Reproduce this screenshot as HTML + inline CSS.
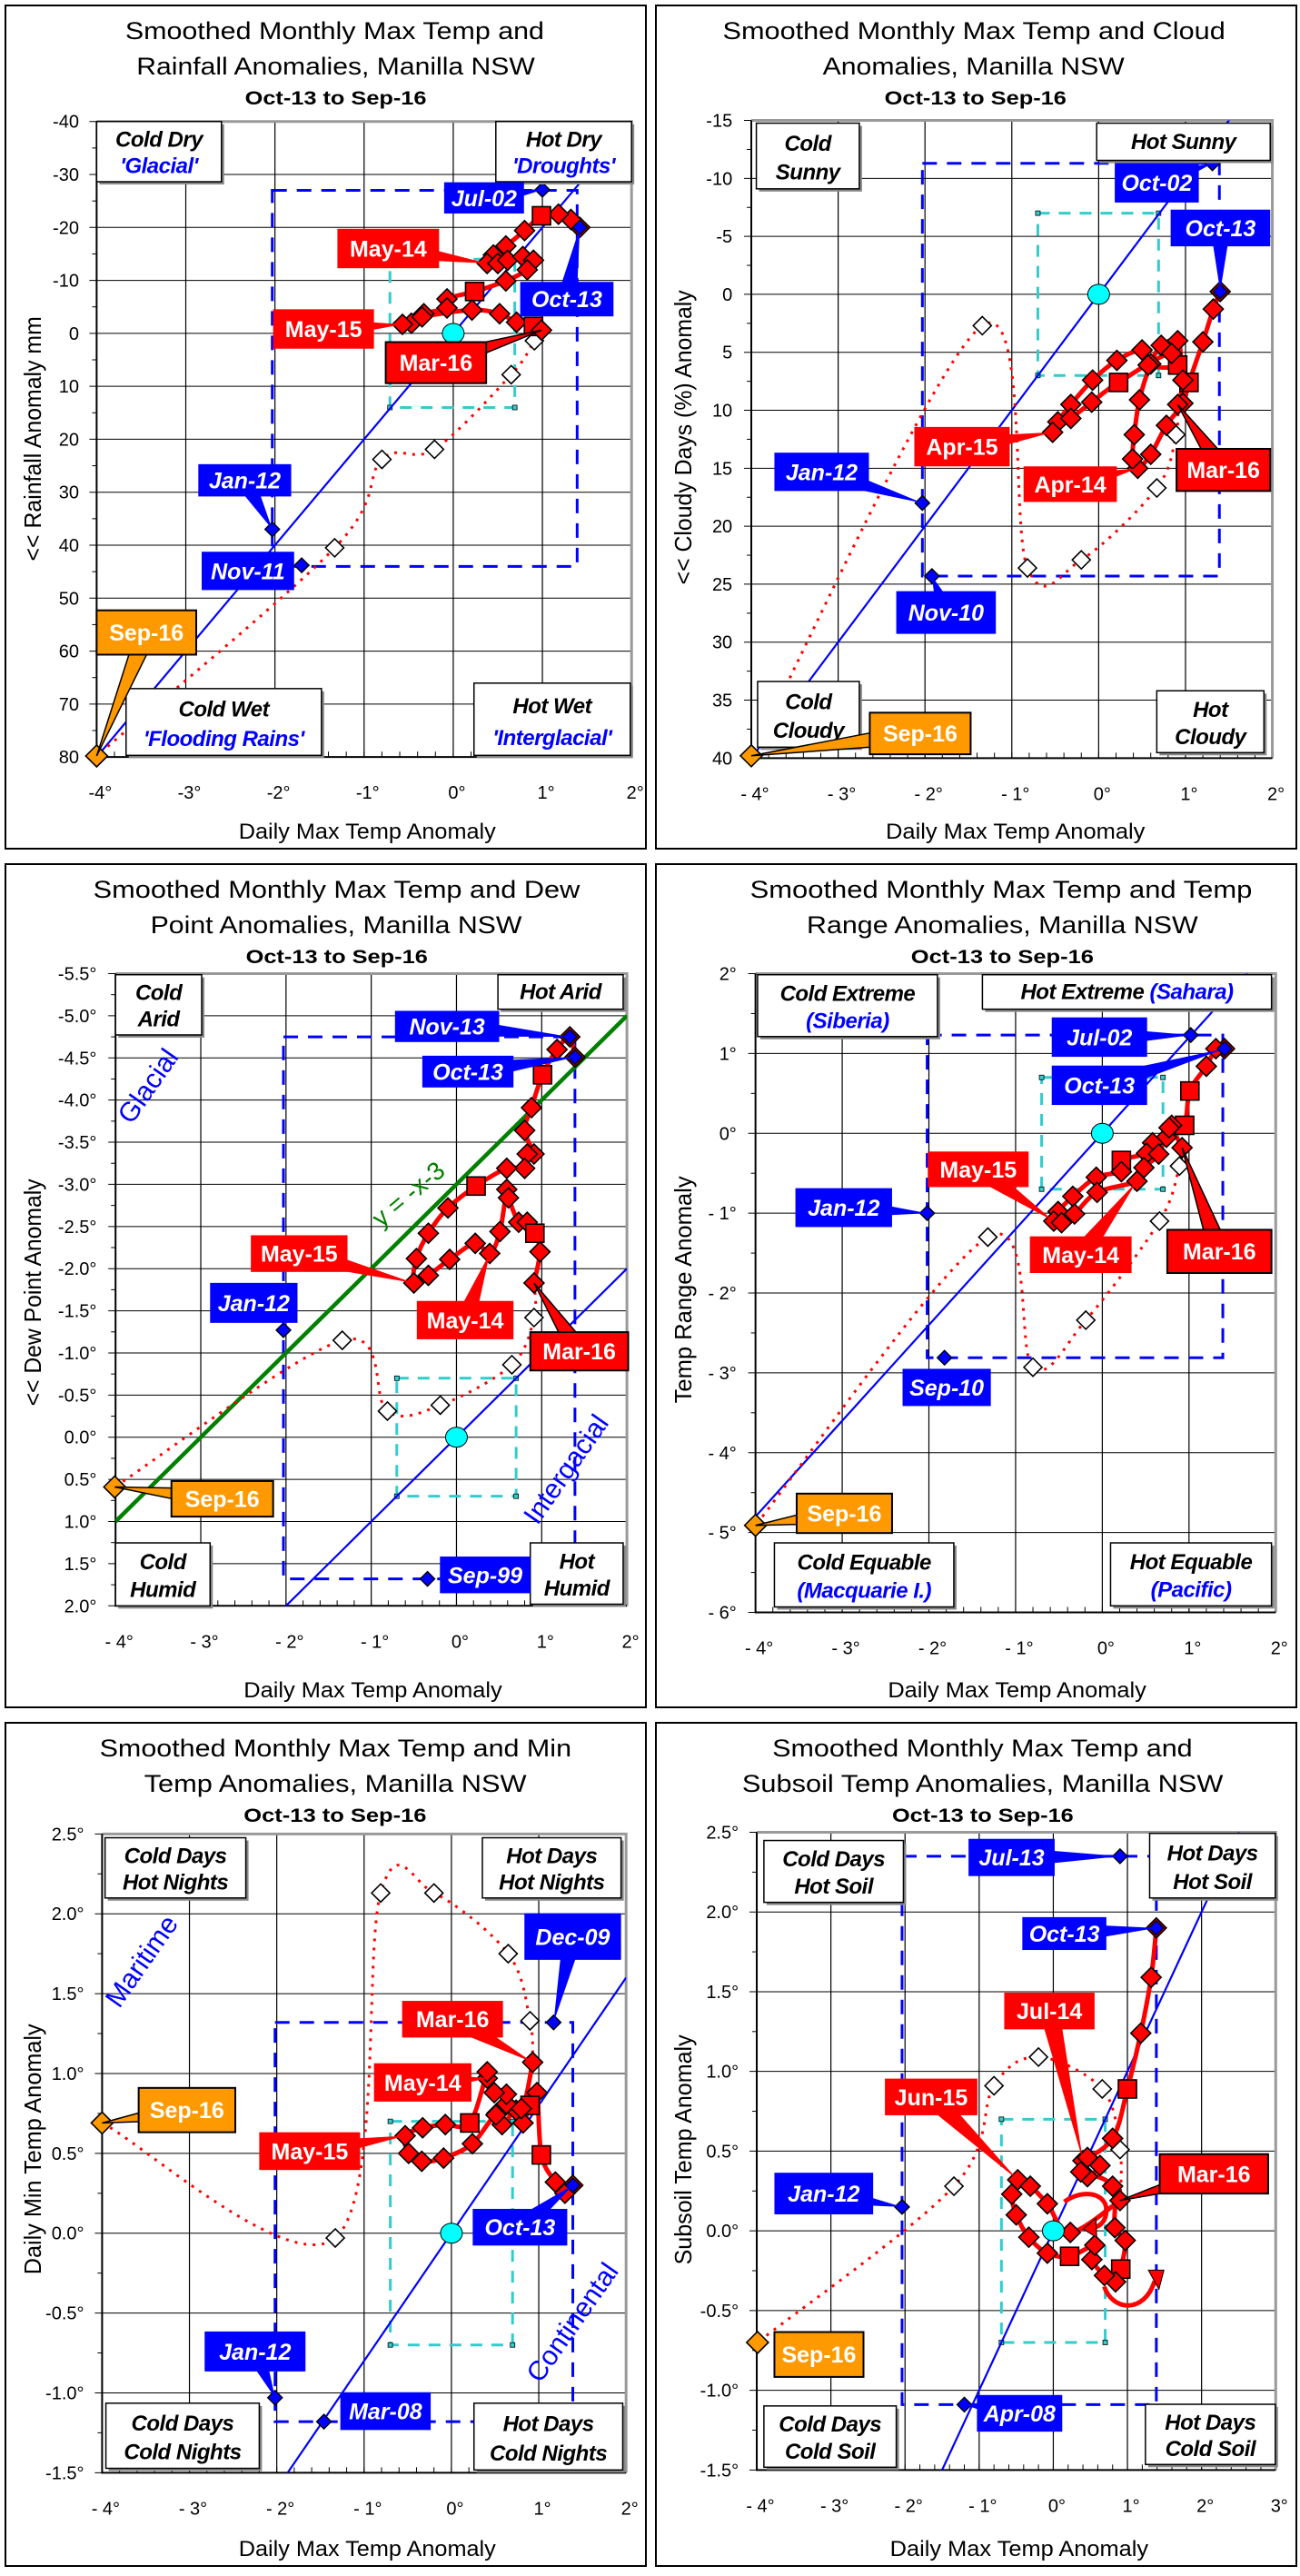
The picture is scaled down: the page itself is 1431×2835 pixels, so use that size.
<!DOCTYPE html>
<html><head><meta charset="utf-8"><title>Manilla NSW anomaly charts</title>
<style>
html,body{margin:0;padding:0;background:#fff;width:1431px;height:2835px;overflow:hidden;}
svg{display:block;font-family:"Liberation Sans",Arial,sans-serif;}
</style></head>
<body>
<svg id="s" width="1431" height="2835" xmlns="http://www.w3.org/2000/svg"></svg>
<script>
// ---------- DATA (data coordinates) ----------
const rainRedX=[1.42,1.32,1.18,0.99,0.80,0.59,0.45,0.38,0.50,0.61,0.78,0.90,0.83,0.59,0.24,-0.07,-0.07,-0.33,-0.47,-0.57,-0.35,0.21,0.52,0.71,0.90,0.99];
const rainRedY=[-20.0,-21.5,-22.5,-22.2,-19.4,-16.5,-14.8,-13.2,-13.2,-13.8,-14.5,-13.8,-12.0,-9.9,-7.9,-6.5,-4.8,-3.7,-1.9,-1.7,-3.1,-4.4,-3.7,-2.1,-1.3,-0.6];
const rainSq=[3,14,24];
const rainWhiteX=[0.91,0.65,-0.21,-0.80,-1.33];
const rainWhiteY=[1.4,7.8,21.9,23.8,40.5];
const rainRecX=[1.0,1.42,-2.03,-1.70];
const rainRecY=[-27.1,-20.0,37,43.8];
const rainSep=[-4,79.8];

const cloudRedX=[1.40,1.32,1.20,1.04,0.97,0.78,0.60,0.45,0.39,0.41,0.47,0.60,0.72,0.91,0.91,0.57,0.50,0.21,-0.07,-0.32,-0.47,-0.53,-0.32,-0.08,0.23,0.84,0.97,0.91];
const cloudRedY=[-0.24,1.27,4.1,7.6,9.4,11.3,13.8,15.0,14.2,12.1,9.1,6.0,4.4,4.0,6.1,6.1,4.8,5.7,7.4,9.5,11.0,11.9,10.7,9.3,7.6,5.1,7.4,9.5];
const cloudSq=[3,14,24];
const cloudWhiteX=[0.89,0.67,-0.20,-0.82,-1.34];
const cloudWhiteY=[12.1,16.7,22.9,23.6,2.7];
const cloudRecX=[1.31,1.40,-2.03,-1.92];
const cloudRecY=[-11.3,-0.24,18.0,24.3];
const cloudSep=[-4,39.8];

const dewRedX=[1.39,1.33,1.18,1.01,0.88,0.80,0.91,0.83,0.80,0.59,0.23,-0.10,-0.33,-0.47,-0.50,-0.33,-0.08,0.22,0.39,0.51,0.59,0.61,0.73,0.83,0.92,0.98,0.91];
const dewRedY=[-4.51,-4.75,-4.6,-4.30,-3.91,-3.64,-3.36,-3.36,-3.19,-3.19,-2.98,-2.72,-2.42,-2.12,-1.83,-1.92,-2.11,-2.30,-2.18,-2.44,-2.94,-2.84,-2.55,-2.55,-2.42,-2.20,-1.83];
const dewSq=[3,10,24];
const dewWhiteX=[0.91,0.65,-0.19,-0.81,-1.34];
const dewWhiteY=[-1.42,-0.86,-0.38,-0.31,-1.15];
const dewRecX=[1.33,1.39,-2.03,-0.34];
const dewRecY=[-4.75,-4.51,-1.27,1.68];
const dewSep=[-4.01,0.59];

const rangeRedX=[1.41,1.31,1.20,1.01,0.95,0.80,0.74,0.58,0.51,0.22,0.22,-0.07,-0.34,-0.51,-0.56,-0.47,-0.32,-0.06,0.40,0.48,0.65,0.77,0.92];
const rangeRedY=[1.06,1.06,0.84,0.53,0.10,0.10,-0.05,-0.12,-0.25,-0.34,-0.48,-0.55,-0.79,-0.98,-1.10,-1.12,-1.01,-0.74,-0.60,-0.43,-0.26,0.07,-0.18];
const rangeSq=[3,4,9];
const rangeWhiteX=[0.89,0.66,-0.19,-0.80,-1.32];
const rangeWhiteY=[-0.41,-1.10,-2.34,-2.93,-1.30];
const rangeRecX=[1.02,1.41,-2.02,-1.82];
const rangeRecY=[1.23,1.06,-1.0,-2.81];
const rangeSep=[-4,-4.91];

const minRedX=[1.39,1.30,1.19,1.03,0.98,0.90,0.82,0.74,0.58,0.52,0.63,0.63,0.49,0.41,0.41,0.21,-0.07,-0.33,-0.53,-0.49,-0.34,-0.09,0.24,0.51,0.80,0.93];
const minRedY=[0.30,0.25,0.32,0.49,0.88,0.80,0.69,0.77,0.68,0.75,0.81,0.87,0.88,0.97,1.01,0.69,0.68,0.66,0.61,0.50,0.45,0.47,0.56,0.74,0.78,1.07];
const minSq=[3,5,15];
const minWhiteX=[0.90,0.65,-0.20,-0.81,-1.33];
const minWhiteY=[1.33,1.75,2.13,2.13,-0.03];
const minRecX=[1.17,1.39,-2.02,-1.46];
const minRecY=[1.32,0.30,-1.03,-1.18];
const minSep=[-4,0.69];

const subRedX=[1.39,1.32,1.18,1.00,0.80,0.40,0.46,0.63,0.46,0.37,0.80,0.83,0.97,0.91,0.84,0.69,0.52,0.56,0.22,-0.08,-0.33,-0.50,-0.56,-0.48,-0.31,-0.08,0.23,0.90];
const subRedY=[1.90,1.59,1.24,0.89,0.58,0.44,0.46,0.41,0.34,0.37,0.28,0.02,-0.06,-0.24,-0.32,-0.28,-0.18,-0.09,-0.16,-0.14,-0.04,0.10,0.23,0.32,0.28,0.17,-0.01,0.19];
const subSq=[3,13,18];
const subWhiteX=[0.90,0.66,-0.20,-0.80,-1.34];
const subWhiteY=[0.51,0.89,1.09,0.91,0.28];
const subRecX=[0.90,1.39,-2.04,-1.20];
const subRecY=[2.35,1.90,0.15,-1.09];
const subSep=[-3.99,-0.70];

const xTicksStd=[-4,-3,-2,-1,0,1,2];
const xTicksSub=[-4,-3,-2,-1,0,1,2,3];

// ---------- RENDER ----------
const NS='http://www.w3.org/2000/svg';
const svg=document.getElementById('s');
function mk(tag,parent){const e=document.createElementNS(NS,tag);parent.appendChild(e);return e;}
function A(e,o){for(const k in o)e.setAttribute(k,o[k]);return e;}
const KX=2.162,KY=1.66;
function smooth(p){let d='M'+p[0][0]+','+p[0][1];for(let i=0;i<p.length-1;i++){const p0=p[i-1]||p[i],p1=p[i],p2=p[i+1],p3=p[i+2]||p2;
 const c1=[p1[0]+(p2[0]-p0[0])/6,p1[1]+(p2[1]-p0[1])/6],c2=[p2[0]-(p3[0]-p1[0])/6,p2[1]-(p3[1]-p1[1])/6];
 d+=' C'+c1[0]+','+c1[1]+' '+c2[0]+','+c2[1]+' '+p2[0]+','+p2[1];}return d;}

function draw(cfg,redX,redY,sq,whX,whY,recX,recY,sep){
 const g=mk('g',svg);A(g,{transform:`translate(${cfg.ox},${cfg.oy})`});
 
 
 const L=cfg.plot[0]/KX,T=cfg.plot[1]/KY,R=cfg.plot[2]/KX,B=cfg.plot[3]/KY;
 const sx=v=>L+(v-cfg.xMin)/(cfg.xMax-cfg.xMin)*(R-L);
 const sy=v=>T+(v-cfg.yTop)/(cfg.yBot-cfg.yTop)*(B-T);
 const border=mk('rect',g);A(border,{x:6,y:6,width:705,height:928,fill:'#fff',stroke:'#000','stroke-width':2});
 
 
 const ty=[43,82,115];
 cfg.title.forEach((t,i)=>{const e=mk('text',g);e.textContent=t[0];
  A(e,{x:t[1]/KX,y:ty[i],'font-size':i<2?27:21,'font-weight':i<2?'normal':'bold',textLength:(t[2]-t[1])/KX,lengthAdjust:'spacingAndGlyphs',fill:'#000'});
  
  });
 const grid=mk('g',g);
 cfg.xTicks.forEach(v=>{const l=mk('line',grid);A(l,{x1:sx(v),x2:sx(v),y1:T,y2:B,stroke:'#000','stroke-width':1.2});
  
  const tl=mk('text',g);tl.textContent=cfg.xFmt(v);A(tl,{x:sx(v)+4,y:B+46,'font-size':20,'text-anchor':'middle'});
  });
 const n=Math.round(Math.abs(cfg.yBot-cfg.yTop)/cfg.yStep);
 for(let i=0;i<=n;i++){const v=cfg.yTop+(cfg.yBot>cfg.yTop?1:-1)*i*cfg.yStep;
  const l=mk('line',grid);A(l,{x1:L-8,x2:R,y1:sy(v),y2:sy(v),stroke:'#000','stroke-width':1});
  
  const tl=mk('text',g);tl.textContent=cfg.yFmt(v);A(tl,{x:cfg.yLabR/KX,y:sy(v)+7,'font-size':20,'text-anchor':'end'});
  
  if(i<n){const vm=v+(cfg.yBot>cfg.yTop?1:-1)*cfg.yStep/2;const m=mk('line',grid);A(m,{x1:L-5,x2:L,y1:sy(vm),y2:sy(vm),stroke:'#000'});}
 }
 for(let v=cfg.xMin;v<cfg.xMax-0.01;v+=0.2){const m=mk('line',grid);A(m,{x1:sx(v),x2:sx(v),y1:B-6,y2:B,stroke:'#000'});}
 const fr=mk('path',g);A(fr,{d:`M${L},${T}H${R}V${B}`,fill:'none',stroke:'#999','stroke-width':3});
 
 const ax=mk('path',g);A(ax,{d:`M${L},${T}V${B}H${R}`,fill:'none',stroke:'#000','stroke-width':2});
 
 const xt=mk('text',g);xt.textContent='Daily Max Temp Anomaly';A(xt,{x:cfg.xt[0]/KX,y:923,'font-size':24,textLength:(cfg.xt[1]-cfg.xt[0])/KX,lengthAdjust:'spacingAndGlyphs'});
 
 const yt=mk('text',g);yt.textContent=cfg.yt[0];const y0=cfg.yt[1]/KY,y1=cfg.yt[2]/KY;
 A(yt,{x:0,y:0,'font-size':26,textLength:y0-y1,lengthAdjust:'spacingAndGlyphs',transform:`translate(45,${y0}) rotate(-90)`});
 
 const cid='c'+cfg.name;const cp=mk('clipPath',g);cp.setAttribute('id',cid);const cr=mk('rect',cp);A(cr,{x:L,y:T,width:R-L,height:B-T});
 const pg=mk('g',g);pg.setAttribute('clip-path',`url(#${cid})`);
 const bb=cfg.blueBox;const br=mk('rect',pg);
 A(br,{x:sx(bb[0]),y:Math.min(sy(bb[2]),sy(bb[3])),width:sx(bb[1])-sx(bb[0]),height:Math.abs(sy(bb[3])-sy(bb[2])),fill:'none',stroke:'#0000ff','stroke-width':3,'stroke-dasharray':'16 11'});
 
 const cb=cfg.cyanBox;const cyr=mk('rect',pg);
 A(cyr,{x:sx(cb[0]),y:Math.min(sy(cb[2]),sy(cb[3])),width:sx(cb[1])-sx(cb[0]),height:Math.abs(sy(cb[3])-sy(cb[2])),fill:'none',stroke:'#33cccc','stroke-width':3,'stroke-dasharray':'13 10'});
 
 [[cb[0],cb[2]],[cb[1],cb[2]],[cb[0],cb[3]],[cb[1],cb[3]]].forEach(p=>{const q=mk('rect',pg);A(q,{x:sx(p[0])-2.5,y:sy(p[1])-2.5,width:5,height:5,fill:'#33cccc',stroke:'#000','stroke-width':0.8});});
 cfg.lines.forEach(ln=>{const l=mk('line',pg);A(l,{x1:sx(cfg.xMin),y1:sy(ln.m*cfg.xMin+ln.c),x2:sx(cfg.xMax),y2:sy(ln.m*cfg.xMax+ln.c),stroke:ln.col,'stroke-width':ln.w});
  });
 const dp=[[sx(redX[redX.length-1]),sy(redY[redY.length-1])]];whX.forEach((v,i)=>dp.push([sx(v),sy(whY[i])]));dp.push([sx(sep[0]),sy(sep[1])]);
 const dot=mk('path',pg);A(dot,{d:smooth(dp),fill:'none',stroke:'#ff0000','stroke-width':3,'stroke-dasharray':'3 7'});
 
 const rp=redX.map((v,i)=>[sx(v),sy(redY[i])]);
 const rl=mk('path',pg);A(rl,{d:smooth(rp),fill:'none',stroke:'#ff0000','stroke-width':5});
 
 const dia=(cx,cy,h,fill,nm,sw)=>{const p=mk('polygon',g);A(p,{points:`${cx},${cy-h} ${cx+h},${cy} ${cx},${cy+h} ${cx-h},${cy}`,fill:fill,stroke:'#000','stroke-width':sw||1.6});
  return p;};
 whX.forEach((v,i)=>dia(sx(v),sy(whY[i]),10,'#fff','earlier-month-point'));
 redX.forEach((v,i)=>{if(sq.includes(i)){const r=mk('rect',g);A(r,{x:sx(v)-10,y:sy(redY[i])-10,width:20,height:20,fill:'#ff0000',stroke:'#000','stroke-width':1.6});
   }
  else dia(sx(v),sy(redY[i]),11,'#ff0000','monthly-point');});
 recX.forEach((v,i)=>dia(sx(v),sy(recY[i]),8,'#0000ff','record-point',1.4));
 const c0=mk('ellipse',g);A(c0,{cx:sx(0),cy:sy(0),rx:12,ry:11,fill:'#00ffff',stroke:'#000','stroke-width':1});
 
 dia(sx(sep[0]),sy(sep[1]),12,'#ff9900','latest-point-sep-16');
 (cfg.deco||[]).forEach(d=>{const p=mk('path',g);A(p,{d:d.replace(/(-?\d+\.?\d*),(-?\d+\.?\d*)/g,(m,a,b)=>(a/KX).toFixed(1)+','+(b/KY).toFixed(1)),fill:'none',stroke:'#ff0000','stroke-width':5});
  });
 (cfg.heads||[]).forEach(h=>{const p=mk('polygon',g);A(p,{points:h.map(q=>(q[0]/KX).toFixed(1)+','+(q[1]/KY).toFixed(1)).join(' '),fill:'#ff0000',stroke:'#000','stroke-width':1});
  });
 cfg.quads.forEach(q=>{const qg=mk('g',g);
  const x0=q[0]/KX,y0=q[1]/KY,x1=q[2]/KX,y1=q[3]/KY;
  const sh=mk('rect',qg);A(sh,{x:x0+3,y:y0+3,width:x1-x0,height:y1-y0,fill:'#888'});
  const r=mk('rect',qg);A(r,{x:x0,y:y0,width:x1-x0,height:y1-y0,fill:'#fff',stroke:'#000','stroke-width':1.5});
  const two=q[5]!=='';const cx=(x0+x1)/2;
  const t1=mk('text',qg);A(t1,{x:cx,y:two?y0+(y1-y0)*0.42:(y0+y1)/2+8,'text-anchor':'middle','font-size':24,'font-weight':'bold','font-style':'italic','letter-spacing':'-0.5'});
  q[4].forEach(s=>{const ts=mk('tspan',t1);ts.textContent=s[0];ts.setAttribute('fill',s[1]);});
  if(two){const t2=mk('text',qg);t2.textContent=q[5];A(t2,{x:cx,y:y0+(y1-y0)*0.86,'text-anchor':'middle','font-size':24,'font-weight':'bold','font-style':'italic',fill:q[6],'letter-spacing':'-0.5'});}
 });
 const cols={b:'#0000ff',r:'#ff0000',rk:'#ff0000',o:'#ff9900'};
 cfg.calls.forEach(c=>{const cg=mk('g',g);
  const x0=c[1]/KX,y0=c[2]/KY,x1=c[3]/KX,y1=c[4]/KY,cx=(x0+x1)/2,cy=(y0+y1)/2;
  let tgt=null;if(c[6]){const s=c[6][0],i=c[6][1];
   if(s==='red'){const k=i<0?redX.length-1:i;tgt=[sx(redX[k]),sy(redY[k])];}
   else if(s==='rec')tgt=[sx(recX[i]),sy(recY[i])];else tgt=[sx(sep[0]),sy(sep[1])];}
  if(tgt){const dx=tgt[0]-cx,dy=tgt[1]-cy,len=Math.hypot(dx,dy)||1,px=-dy/len*11,py=dx/len*11;
   const tri=mk('polygon',cg);A(tri,{points:`${cx+px},${cy+py} ${tgt[0]},${tgt[1]} ${cx-px},${cy-py}`,fill:cols[c[5]],stroke:c[5]==='rk'||c[5]==='o'?'#000':'none','stroke-width':1.5});}
  const r=mk('rect',cg);A(r,{x:x0,y:y0,width:x1-x0,height:y1-y0,fill:cols[c[5]],stroke:c[5]==='rk'||c[5]==='o'?'#000':'none','stroke-width':2});
  const t=mk('text',cg);t.textContent=c[0];A(t,{x:cx,y:cy+9,'text-anchor':'middle','font-size':25,'font-weight':'bold','font-style':c[5]==='b'?'italic':'normal',fill:'#fff'});
 });
 (cfg.rot||[]).forEach(r=>{const t=mk('text',g);t.textContent=r[0];A(t,{x:0,y:0,'font-size':r[4],'text-anchor':'middle',fill:r[5],transform:`translate(${r[1]/KX},${r[2]/KY}) rotate(${r[3]})`});
  });
}
const fmtDeg=v=>(Math.abs(v)<1e-9?'0.0':v.toFixed(1))+'°';
const xFmtSp=v=>v<0?'- '+Math.abs(v)+'°':v+'°';
const blueLn=(m,c)=>({m:m,c:c||0,col:'#0000ff',w:2.2,nm:'reference-line'});
const W='#0000ff',K='#000';

draw({name:'rainfall-chart',ox:0,oy:0,plot:[230,222,1503,1383],xMin:-4,xMax:2,yTop:-40,yBot:80,yStep:10,yLabR:188,
 xTicks:xTicksStd,xFmt:v=>v+'°',yFmt:v=>String(v),
 title:[['Smoothed Monthly Max Temp and',298,1295],['Rainfall Anomalies, Manilla NSW',325,1273],['Oct-13 to Sep-16',583,1015]],
 xt:[568,1180],yt:['<< Rainfall Anomaly mm',1025,578],
 blueBox:[-2.03,1.39,-27,44],cyanBox:[-0.71,0.69,-14,14],lines:[blueLn(-20)],
 quads:[[230,222,527,332,[['Cold Dry',K]],"'Glacial'",W],[1180,222,1503,332,[['Hot  Dry',K]],"'Droughts'",W],[300,1258,765,1380,[['Cold Wet',K]],"'Flooding Rains'",W],[1128,1248,1500,1380,[['Hot Wet',K]],"'Interglacial'",W]],
 calls:[['Jul-02',1057,333,1247,390,'b',['rec',0]],['May-14',803,418,1045,490,'r',['red',7]],['Oct-13',1238,515,1460,578,'b',['rec',1]],['May-15',650,565,890,637,'r',['red',19]],['Mar-16',918,625,1157,700,'rk',['red',-1]],['Jan-12',472,848,693,907,'b',['rec',2]],['Nov-11',480,1008,700,1078,'b',null],['Sep-16',230,1115,467,1196,'o',['sep']]]
},rainRedX,rainRedY,rainSq,rainWhiteX,rainWhiteY,rainRecX,rainRecY,rainSep);

draw({name:'cloud-chart',ox:716,oy:0,plot:[240,220,1480,1385],xMin:-4,xMax:2,yTop:-15,yBot:40,yStep:5,yLabR:195,
 xTicks:xTicksStd,xFmt:xFmtSp,yFmt:v=>String(v),
 title:[['Smoothed Monthly Max Temp and Cloud',172,1368],['Anomalies, Manilla NSW',410,1128],['Oct-13 to Sep-16',557,990]],
 xt:[560,1177],yt:['<< Cloudy Days (%) Anomaly',1068,530],
 blueBox:[-2.03,1.39,-11.3,24.3],cyanBox:[-0.7,0.69,-7,7],lines:[blueLn(-10)],
 quads:[[252,225,497,345,[['Cold',K]],'Sunny',K],[1062,225,1475,293,[['Hot Sunny',K]],'',K],[255,1245,497,1365,[['Cold',K]],'Cloudy',K],[1205,1262,1460,1375,[['Hot',K]],'Cloudy',K]],
 calls:[['Oct-02',1105,298,1305,370,'b',['rec',0]],['Oct-13',1238,383,1475,450,'b',['rec',1]],['Apr-15',628,780,855,852,'r',['red',21]],['Jan-12',295,827,520,897,'b',['rec',2]],['Apr-14',888,852,1110,917,'r',['red',7]],['Mar-16',1252,820,1475,897,'rk',['red',-1]],['Nov-10',585,1080,822,1158,'b',['rec',3]],['Sep-16',522,1302,762,1378,'o',['sep']]]
},cloudRedX,cloudRedY,cloudSq,cloudWhiteX,cloudWhiteY,cloudRecX,cloudRecY,cloudSep);

draw({name:'dew-point-chart',ox:0,oy:945,plot:[275,210,1492,1365],xMin:-4,xMax:2,yTop:-5.5,yBot:2.0,yStep:0.5,yLabR:230,
 xTicks:xTicksStd,xFmt:xFmtSp,yFmt:fmtDeg,
 title:[['Smoothed Monthly Max Temp and Dew',222,1380],['Point Anomalies, Manilla NSW',358,1242],['Oct-13 to Sep-16',585,1018]],
 xt:[580,1195],yt:['<< Dew Point Anomaly',1000,585],
 blueBox:[-2.03,1.39,-4.75,1.68],cyanBox:[-0.7,0.7,-0.7,0.7],
 lines:[{m:-1,c:-3,col:'#008000',w:4.5,nm:'y-equals-minus-x-minus-3-line'},blueLn(-1)],
 quads:[[275,212,480,322,[['Cold',K]],'Arid',K],[1185,212,1483,275,[['Hot  Arid',K]],'',K],[275,1250,500,1365,[['Cold',K]],'Humid',K],[1262,1250,1483,1362,[['Hot',K]],'Humid',K]],
 calls:[['Nov-13',940,278,1188,335,'b',['rec',0]],['Oct-13',1005,360,1222,418,'b',['rec',1]],['May-15',597,688,827,755,'r',['red',14]],['Jan-12',500,775,708,848,'b',null],['May-14',992,808,1222,878,'r',['red',18]],['Mar-16',1262,865,1495,935,'rk',['red',-1]],['Sep-99',1047,1275,1262,1342,'b',null],['Sep-16',408,1137,650,1202,'o',['sep']]],
 rot:[['Glacial',370,425,-55,30,W],['Intergacial',1365,1125,-55,30,W],['y = -x-3',985,625,-40,28,'#008000']]
},dewRedX,dewRedY,dewSq,dewWhiteX,dewWhiteY,dewRecX,dewRecY,dewSep);

draw({name:'temp-range-chart',ox:716,oy:945,plot:[250,210,1488,1377],xMin:-4,xMax:2,yTop:2,yBot:-6,yStep:1,yLabR:205,
 xTicks:xTicksStd,xFmt:xFmtSp,yFmt:v=>v<0?'-  '+Math.abs(v)+'°':v+'°',
 title:[['Smoothed Monthly Max Temp and Temp',237,1432],['Range Anomalies, Manilla NSW',372,1303],['Oct-13 to Sep-16',620,1055]],
 xt:[565,1180],yt:['Temp Range Anomaly',995,580],
 blueBox:[-2.02,1.39,1.23,-2.81],cyanBox:[-0.7,0.7,0.7,-0.7],lines:[blueLn(1.2)],
 quads:[[255,212,683,325,[['Cold Extreme',K]],'(Siberia)',W],[790,212,1478,275,[['Hot Extreme  ',K],['(Sahara)',W]],'',K],[295,1250,722,1367,[['Cold  Equable',K]],'(Macquarie I.)',W],[1095,1250,1478,1365,[['Hot Equable',K]],'(Pacific)',W]],
 calls:[['Jul-02',955,290,1182,362,'b',['rec',0]],['Oct-13',955,378,1182,450,'b',['rec',1]],['May-15',660,535,900,600,'r',['red',14]],['Jan-12',345,602,575,673,'b',['rec',2]],['May-14',903,690,1145,757,'r',['red',18]],['Mar-16',1230,678,1478,757,'rk',['red',-1]],['Sep-10',600,932,810,1000,'b',null],['Sep-16',348,1160,575,1232,'o',['sep']]]
},rangeRedX,rangeRedY,rangeSq,rangeWhiteX,rangeWhiteY,rangeRecX,rangeRecY,rangeSep);

draw({name:'min-temp-chart',ox:0,oy:1890,plot:[243,213,1490,1380],xMin:-4,xMax:2,yTop:2.5,yBot:-1.5,yStep:0.5,yLabR:200,
 xTicks:xTicksStd,xFmt:xFmtSp,yFmt:fmtDeg,
 title:[['Smoothed Monthly Max Temp and Min',237,1360],['Temp Anomalies, Manilla NSW',343,1253],['Oct-13 to Sep-16',580,1015]],
 xt:[568,1180],yt:['Daily Min Temp Anomaly',1018,560],
 blueBox:[-2.02,1.39,1.32,-1.18],cyanBox:[-0.7,0.7,0.7,-0.7],lines:[blueLn(0.8)],
 quads:[[250,220,585,330,[['Cold  Days',K]],'Hot Nights',K],[1148,220,1478,330,[['Hot  Days',K]],'Hot Nights',K],[252,1253,617,1372,[['Cold  Days',K]],'Cold Nights',K],[1128,1253,1482,1375,[['Hot  Days',K]],'Cold Nights',K]],
 calls:[['Dec-09',1248,358,1478,443,'b',['rec',0]],['Mar-16',957,518,1197,585,'r',['red',-1]],['May-14',890,632,1122,702,'r',['red',13]],['May-15',617,758,857,827,'r',['red',18]],['Sep-16',330,677,560,758,'o',['sep']],['Oct-13',1125,898,1350,965,'b',['rec',1]],['Jan-12',487,1122,727,1195,'b',['rec',2]],['Mar-08',810,1233,1025,1302,'b',null]],
 rot:[['Maritime',355,455,-55,30,W],['Continental',1380,1115,-55,30,W]]
},minRedX,minRedY,minSq,minWhiteX,minWhiteY,minRecX,minRecY,minSep);

draw({name:'subsoil-temp-chart',ox:716,oy:1890,plot:[253,210,1488,1375],xMin:-4,xMax:3,yTop:2.5,yBot:-1.5,yStep:0.5,yLabR:210,
 xTicks:xTicksSub,xFmt:xFmtSp,yFmt:fmtDeg,
 title:[['Smoothed Monthly Max Temp and',290,1290],['Subsoil Temp Anomalies, Manilla NSW',218,1363],['Oct-13 to Sep-16',575,1007]],
 xt:[570,1185],yt:['Subsoil Temp Anomaly',1000,580],
 blueBox:[-2.04,1.39,2.35,-1.09],cyanBox:[-0.7,0.7,0.7,-0.7],lines:[blueLn(1)],
 quads:[[270,225,602,338,[['Cold Days',K]],'Hot Soil',K],[1188,212,1487,330,[['Hot Days',K]],'Hot Soil',K],[270,1258,585,1370,[['Cold Days',K]],'Cold Soil',K],[1178,1255,1487,1365,[['Hot  Days',K]],'Cold Soil',K]],
 calls:[['Jul-13',757,222,962,290,'b',['rec',0]],['Oct-13',885,365,1085,425,'b',['rec',1]],['Jul-14',842,503,1057,570,'r',['red',5]],['Jun-15',558,660,778,727,'r',['red',23]],['Mar-16',1212,798,1470,870,'rk',['red',-1]],['Jan-12',295,832,530,908,'b',['rec',2]],['Sep-16',295,1123,507,1205,'o',null],['Apr-08',777,1238,980,1305,'b',['rec',3]]],
 deco:['M985,885 C1030,860 1085,870 1085,900 C1085,920 1070,930 1055,932','M1080,1040 C1100,1085 1175,1090 1200,1030'],
 heads:[[[1060,915],[1030,935],[1062,950]],[[1185,1010],[1222,1010],[1210,1045]]]
},subRedX,subRedY,subSq,subWhiteX,subWhiteY,subRecX,subRecY,subSep);
</script>
</body></html>
